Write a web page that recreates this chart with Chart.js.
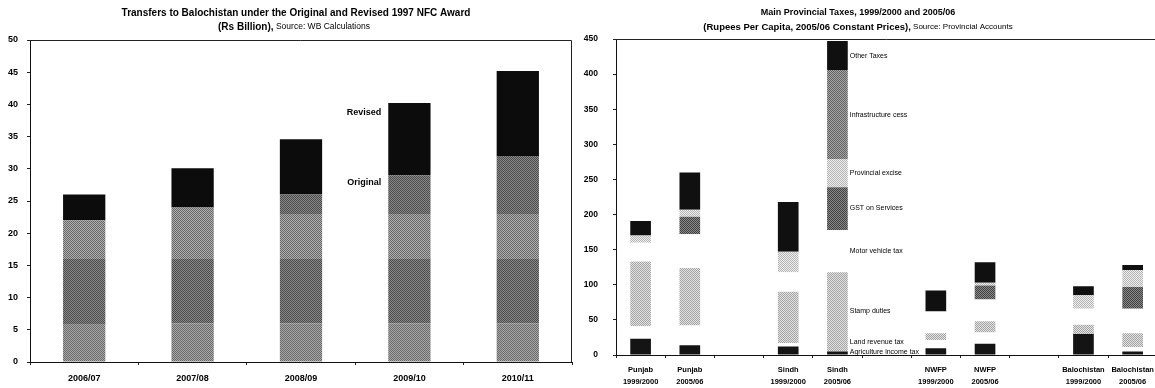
<!DOCTYPE html>
<html>
<head>
<meta charset="utf-8">
<script src="https://cdn.jsdelivr.net/npm/chart.js@4/dist/chart.umd.min.js"></script>
<style>
  html, body { margin: 0; padding: 0; background: #fff; overflow: hidden; }
  #leftBox { position: absolute; left: 0; top: 0; width: 580px; height: 388px; }
  #rightBox { position: absolute; left: 580px; top: 0; width: 580px; height: 388px; }
</style>
</head>
<body>
<div id="leftBox"><canvas id="nfcChart"></canvas></div>
<div id="rightBox"><canvas id="taxChart"></canvas></div>
<script>
// ---- left chart: transfers to Balochistan (Rs billion) ----
const nfcYears = ["2006/07", "2007/08", "2008/09", "2009/10", "2010/11"];
const nfcPartA = [5.8, 6, 6, 6, 6];
const nfcPartB = [10.2, 10, 10, 10, 10];
const nfcPartC = [6, 8, 7, 7, 7];
const nfcPartD = [0, 0, 3, 6, 9];
const nfcRevisedExtra = [4, 6.1, 8.6, 11.2, 13.2];
const nfcNotes = ["Revised", "Original"];
const nfcNoteAt = [38.7, 27.9];

// ---- right chart: provincial taxes per capita ----
const taxBars = [
  ["Punjab", "1999/2000"], ["Punjab", "2005/06"], "",
  ["Sindh", "1999/2000"], ["Sindh", "2005/06"], "",
  ["NWFP", "1999/2000"], ["NWFP", "2005/06"], "",
  ["Balochistan", "1999/2000"], ["Balochistan", "2005/06"]
];
const agriIncomeTax = [23, 14, null, 12, 5, null, 9.5, 16, null, 30, 5];
const landRevenueTax = [18, 28, null, 5, 0, null, 12, 16, null, 0, 6];
const stampDuties = [92, 82, null, 73, 113, null, 9.5, 16, null, 13, 20];
const motorVehicleTax = [27, 48, null, 28, 60, null, 31, 31, null, 23, 35];
const gstServices = [0, 25, null, 0, 61, null, 0, 20, null, 0, 31];
const provExcise = [10, 10, null, 29, 40, null, 0, 4, null, 19, 24];
const infraCess = [0, 0, null, 0, 127, null, 0, 0, null, 0, 0];
const otherTaxes = [21, 53, null, 71, 41, null, 30, 29, null, 13, 7];
const taxNames = ["Agriculture income tax", "Land revenue tax", "Stamp duties", "Motor vehicle tax",
  "GST on Services", "Provincial excise", "Infrastructure cess", "Other Taxes"];
const taxNoteAt = [4, 18, 62, 148, 209, 259, 342, 426];

const FONT = "'Liberation Sans', Arial, sans-serif";
Chart.defaults.font.family = FONT;
Chart.defaults.color = "#000";

// halftone-like fill, like the printed greys
function dither(a, b) {
  const c = document.createElement("canvas");
  c.width = 2; c.height = 2;
  const g = c.getContext("2d");
  g.fillStyle = a; g.fillRect(0, 0, 2, 2);
  g.fillStyle = b; g.fillRect(0, 0, 1, 1); g.fillRect(1, 1, 1, 1);
  return g.createPattern(c, "repeat");
}

// title with bold and plain runs on one line
function drawRuns(ctx, runs, cx, y) {
  let total = 0;
  runs.forEach(r => { ctx.font = r.font; total += ctx.measureText(r.text).width; });
  let x = cx - total / 2;
  ctx.textBaseline = "middle";
  ctx.textAlign = "left";
  runs.forEach(r => {
    ctx.font = r.font;
    ctx.fillText(r.text, x, y);
    x += ctx.measureText(r.text).width;
  });
}

const nfcDecor = {
  id: "nfcDecor",
  afterDraw(chart) {
    const ctx = chart.ctx, a = chart.chartArea;
    ctx.save();
    ctx.fillStyle = "#000";
    drawRuns(ctx, [{ text: "Transfers to Balochistan under the Original and Revised 1997 NFC Award", font: "bold 10px " + FONT }], 296, 13);
    drawRuns(ctx, [
      { text: "(Rs Billion),", font: "bold 10px " + FONT },
      { text: " Source: WB Calculations", font: "8.5px " + FONT }
    ], 294, 27);
    // frame
    ctx.strokeStyle = "#222";
    ctx.lineWidth = 1;
    ctx.beginPath();
    ctx.moveTo(a.left, a.top + 0.5);
    ctx.lineTo(a.right - 0.5, a.top + 0.5);
    ctx.lineTo(a.right - 0.5, a.bottom);
    ctx.stroke();
    // notes next to 2009/10
    const el = chart.getDatasetMeta(0).data[3];
    const y = chart.scales.y;
    ctx.font = "bold 9px " + FONT;
    ctx.textAlign = "right";
    ctx.textBaseline = "middle";
    nfcNotes.forEach((t, i) => {
      ctx.fillText(t, el.x - el.width / 2 - 7, y.getPixelForValue(nfcNoteAt[i]));
    });
    ctx.restore();
  }
};

const taxDecor = {
  id: "taxDecor",
  afterDraw(chart) {
    const ctx = chart.ctx, a = chart.chartArea;
    ctx.save();
    ctx.fillStyle = "#000";
    drawRuns(ctx, [{ text: "Main Provincial Taxes, 1999/2000 and 2005/06", font: "bold 9px " + FONT }], 278, 13);
    drawRuns(ctx, [
      { text: "(Rupees Per Capita, 2005/06 Constant Prices),", font: "bold 9.5px " + FONT },
      { text: " Source: Provincial Accounts", font: "8px " + FONT }
    ], 278, 27);
    ctx.strokeStyle = "#222";
    ctx.beginPath();
    ctx.moveTo(a.left, a.top + 0.5);
    ctx.lineTo(a.right, a.top + 0.5);
    ctx.stroke();
    const el = chart.getDatasetMeta(0).data[4];
    const y = chart.scales.y;
    ctx.font = "7px " + FONT;
    ctx.textAlign = "left";
    ctx.textBaseline = "middle";
    taxNames.forEach((t, i) => {
      ctx.fillText(t, el.x + el.width / 2 + 2, y.getPixelForValue(taxNoteAt[i]));
    });
    ctx.restore();
  }
};

function bars(label, data, color, bw) {
  return { label, data, backgroundColor: color, borderWidth: 0,
    barPercentage: bw, categoryPercentage: 1 };
}

new Chart(document.getElementById("nfcChart"), {
  type: "bar",
  data: {
    labels: nfcYears,
    datasets: [
      bars("Part A", nfcPartA, dither("#a8a8a8", "#6a6a6a"), 0.39),
      bars("Part B", nfcPartB, dither("#8a8a8a", "#4a4a4a"), 0.39),
      bars("Part C", nfcPartC, dither("#b0b0b0", "#666666"), 0.39),
      bars("Part D", nfcPartD, dither("#888888", "#4c4c4c"), 0.39),
      bars("Revised", nfcRevisedExtra, "#0c0c0c", 0.39)
    ]
  },
  options: {
    responsive: true,
    maintainAspectRatio: false,
    animation: false,
    layout: { padding: { top: 40, right: 8, left: 0, bottom: 0 } },
    plugins: { legend: { display: false }, tooltip: { enabled: false } },
    scales: {
      x: {
        stacked: true,
        afterFit: s => { s.height = 26; },
        grid: { drawOnChartArea: false, drawTicks: true, tickLength: 3, color: "#222" },
        border: { color: "#111", width: 1 },
        ticks: { padding: 8, font: { size: 9, weight: "bold" } }
      },
      y: {
        stacked: true,
        min: 0, max: 50,
        afterFit: s => { s.width = 30; },
        grid: { drawOnChartArea: false, drawTicks: true, tickLength: 3, color: "#222" },
        border: { color: "#111", width: 1 },
        ticks: { stepSize: 5, padding: 9, font: { size: 9, weight: "bold" } }
      }
    }
  },
  plugins: [nfcDecor]
});

new Chart(document.getElementById("taxChart"), {
  type: "bar",
  data: {
    labels: taxBars,
    datasets: [
      bars(taxNames[0], agriIncomeTax, "#141414", 0.42),
      bars(taxNames[1], landRevenueTax, "#ffffff", 0.42),
      bars(taxNames[2], stampDuties, dither("#e2e2e2", "#a4a4a4"), 0.42),
      bars(taxNames[3], motorVehicleTax, "#ffffff", 0.42),
      bars(taxNames[4], gstServices, dither("#8a8a8a", "#404040"), 0.42),
      bars(taxNames[5], provExcise, dither("#eeeeee", "#b4b4b4"), 0.42),
      bars(taxNames[6], infraCess, dither("#a8a8a8", "#606060"), 0.42),
      bars(taxNames[7], otherTaxes, "#101010", 0.42)
    ]
  },
  options: {
    responsive: true,
    maintainAspectRatio: false,
    animation: false,
    layout: { padding: { top: 39, right: 2, left: 0, bottom: 0 } },
    plugins: { legend: { display: false }, tooltip: { enabled: false } },
    scales: {
      x: {
        stacked: true,
        afterFit: s => { s.height = 33; },
        grid: { drawOnChartArea: false, drawTicks: true, tickLength: 3, color: "#222" },
        border: { color: "#111", width: 1 },
        ticks: { padding: 6, autoSkip: false, maxRotation: 0, font: { size: 7.5, weight: "bold", lineHeight: 1.6 } }
      },
      y: {
        stacked: true,
        min: 0, max: 450,
        afterFit: s => { s.width = 36; },
        grid: { drawOnChartArea: false, drawTicks: true, tickLength: 3, color: "#222" },
        border: { color: "#111", width: 1 },
        ticks: { stepSize: 50, padding: 15, font: { size: 8.5, weight: "bold" } }
      }
    }
  },
  plugins: [taxDecor]
});
</script>
</body>
</html>
